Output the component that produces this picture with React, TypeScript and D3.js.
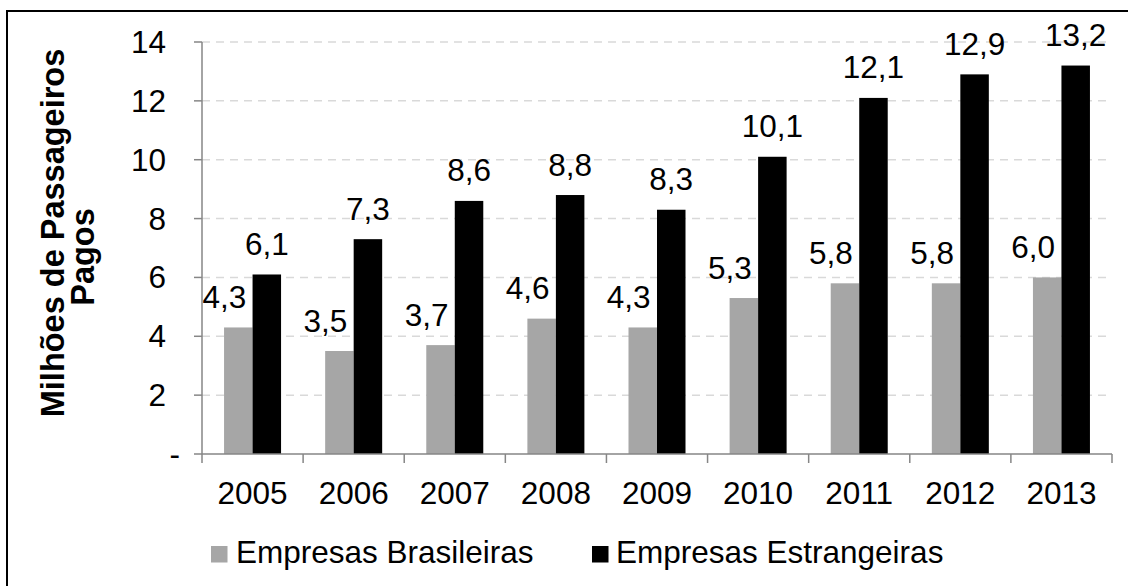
import React from "react";
import * as d3 from "d3";

const years = ["2005", "2006", "2007", "2008", "2009", "2010", "2011", "2012", "2013"];
const brasileiras = [4.3, 3.5, 3.7, 4.6, 4.3, 5.3, 5.8, 5.8, 6.0];
const estrangeiras = [6.1, 7.3, 8.6, 8.8, 8.3, 10.1, 12.1, 12.9, 13.2];
const yTicks = [0, 2, 4, 6, 8, 10, 12, 14];
const seriesNames = ["Empresas Brasileiras", "Empresas Estrangeiras"];
const axisTitle = ["Milhões de Passageiros", "Pagos"];

const W = 1128;
const H = 586;
const FONT = "'Liberation Sans', Arial, sans-serif";
const FS = 31.5;

export default function App() {
  const x = d3.scaleBand<string>().domain(years).range([202, 1112]).paddingInner(0).paddingOuter(0);
  const y = d3.scaleLinear().domain([0, 14]).range([454, 42]);
  const bw = 28.5;
  const fmt = (v: number) => v.toFixed(1).replace(".", ",");
  const axisColor = "#868686";

  return (
    <svg width={W} height={H} style={{ position: "absolute", left: 0, top: 0, background: "#fff" }} fontFamily={FONT}>
      {/* frame */}
      <line x1={7} y1={11} x2={W} y2={11} stroke="#000" strokeWidth={2} />
      <line x1={7} y1={10} x2={7} y2={H} stroke="#000" strokeWidth={2} />

      {/* gridlines */}
      {yTicks.filter((t) => t > 0).map((t) => (
        <line key={"g" + t} x1={202} x2={1112} y1={y(t)} y2={y(t)} stroke="#d9d9d9" strokeWidth={1.5} strokeDasharray="8,6" />
      ))}

      {/* bars */}
      {years.map((yr, i) => {
        const c = (x(yr) as number) + x.bandwidth() / 2;
        return (
          <g key={yr}>
            <rect x={c - bw} y={y(brasileiras[i])} width={bw} height={y(0) - y(brasileiras[i])} fill="#a6a6a6" />
            <rect x={c} y={y(estrangeiras[i])} width={bw} height={y(0) - y(estrangeiras[i])} fill="#000" />
            <text x={c - bw / 2 - 14} y={y(brasileiras[i]) - 19.5} fontSize={FS} textAnchor="middle" fill="#000">
              {fmt(brasileiras[i])}
            </text>
            <text x={c + bw / 2} y={y(estrangeiras[i]) - 19.5} fontSize={FS} textAnchor="middle" fill="#000">
              {fmt(estrangeiras[i])}
            </text>
          </g>
        );
      })}

      {/* y axis */}
      <line x1={202} x2={202} y1={y(14)} y2={y(0)} stroke={axisColor} strokeWidth={1.5} />
      {yTicks.map((t) => (
        <g key={"t" + t}>
          <line x1={194} x2={202} y1={y(t)} y2={y(t)} stroke={axisColor} strokeWidth={1.5} />
          <text x={t === 0 ? 180 : 166} y={y(t)} dy="0.35em" fontSize={FS} textAnchor="end" fill="#000">
            {t === 0 ? "-" : String(t)}
          </text>
        </g>
      ))}

      {/* x axis */}
      <line x1={202} x2={1112} y1={y(0)} y2={y(0)} stroke={axisColor} strokeWidth={1.5} />
      {[...years.map((yr) => x(yr) as number), 1112].map((px, i) => (
        <line key={"xt" + i} x1={px} x2={px} y1={y(0)} y2={463} stroke={axisColor} strokeWidth={1.5} />
      ))}
      {years.map((yr) => (
        <text key={"xl" + yr} x={(x(yr) as number) + x.bandwidth() / 2} y={504} fontSize={FS} textAnchor="middle" fill="#000">
          {yr}
        </text>
      ))}

      {/* y axis title */}
      <text transform="translate(64, 233) rotate(-90)" fontSize={32.5} fontWeight="bold" textAnchor="middle" fill="#000">
        {axisTitle[0]}
      </text>
      <text transform="translate(94, 257) rotate(-90)" fontSize={32.5} fontWeight="bold" textAnchor="middle" fill="#000">
        {axisTitle[1]}
      </text>

      {/* legend */}
      <rect x={211} y={546} width={16.5} height={16.5} fill="#a6a6a6" />
      <text x={236} y={563} fontSize={FS} fill="#000">{seriesNames[0]}</text>
      <rect x={592} y={546} width={16.5} height={16.5} fill="#000" />
      <text x={616} y={563} fontSize={FS} fill="#000">{seriesNames[1]}</text>
    </svg>
  );
}
